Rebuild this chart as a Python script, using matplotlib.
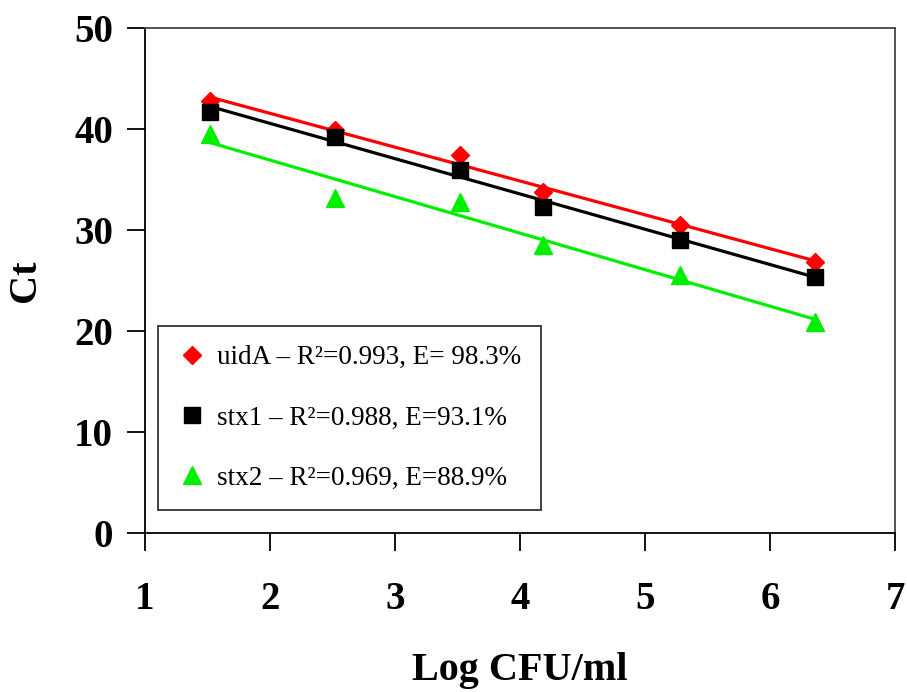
import numpy as np
import matplotlib
matplotlib.use('Agg')
import matplotlib.pyplot as plt

plt.rcParams['font.family'] = ['Liberation Serif', 'DejaVu Serif']

# log CFU/ml and Ct values
log_cfu = [1.52, 2.52, 3.52, 4.18, 5.28, 6.36]
ct_uida = [42.7, 39.9, 37.4, 33.7, 30.5, 26.8]
ct_stx1 = [41.7, 39.2, 35.9, 32.3, 29.0, 25.3]
ct_stx2 = [39.5, 33.1, 32.7, 28.5, 25.5, 20.9]

labels = ['uidA \u2013 R\u00b2=0.993, E= 98.3%',
          'stx1 \u2013 R\u00b2=0.988, E=93.1%',
          'stx2 \u2013 R\u00b2=0.969, E=88.9%']

fig = plt.figure(figsize=(9.07, 6.92), dpi=100)
ax = fig.add_axes([0.160, 0.230, 0.827, 0.730])

series = [(ct_uida, '#ff0000', 'D', 9),
          (ct_stx1, '#000000', 's', 11),
          (ct_stx2, '#00ee00', '^', 13)]

x = np.array(log_cfu)
for (y, col, mk, ms), lab in zip(series, labels):
    # trendline (linear fit) like the excel chart
    k, b = np.polyfit(x, y, 1)
    xx = np.array([x.min(), x.max()])
    ax.plot(xx, k * xx + b, color=col, lw=2.3, zorder=2)
    ax.plot(x, y, ls='none', marker=mk, ms=ms, color=col, label=lab, zorder=3)

ax.set_xlim(1, 7)
ax.set_ylim(0, 50)
ax.set_xticks(range(1, 8))
ax.set_yticks(range(0, 51, 10))
ax.tick_params(direction='out', length=13, width=1.3)
for t in ax.get_xticklabels() + ax.get_yticklabels():
    t.set_fontsize(28)
    t.set_fontweight('bold')
ax.tick_params(axis='x', pad=22)
ax.tick_params(axis='y', pad=10)
for s in ax.spines.values():
    s.set_linewidth(1.3)
ax.spines['right'].set_color('#444444')
ax.spines['top'].set_color('#444444')

ax.set_xlabel('Log CFU/ml', fontsize=29, fontweight='bold', labelpad=24)
ax.set_ylabel('Ct', fontsize=29, fontweight='bold', labelpad=22)

leg = ax.legend(loc='lower left', bbox_to_anchor=(0.017, 0.046), fontsize=19.5,
                frameon=True, fancybox=False, edgecolor='black',
                labelspacing=1.3, handletextpad=0.4, handlelength=1.1,
                borderpad=0.7, borderaxespad=0)
leg.get_frame().set_linewidth(1.3)

fig.savefig('out.png', dpi=100)
